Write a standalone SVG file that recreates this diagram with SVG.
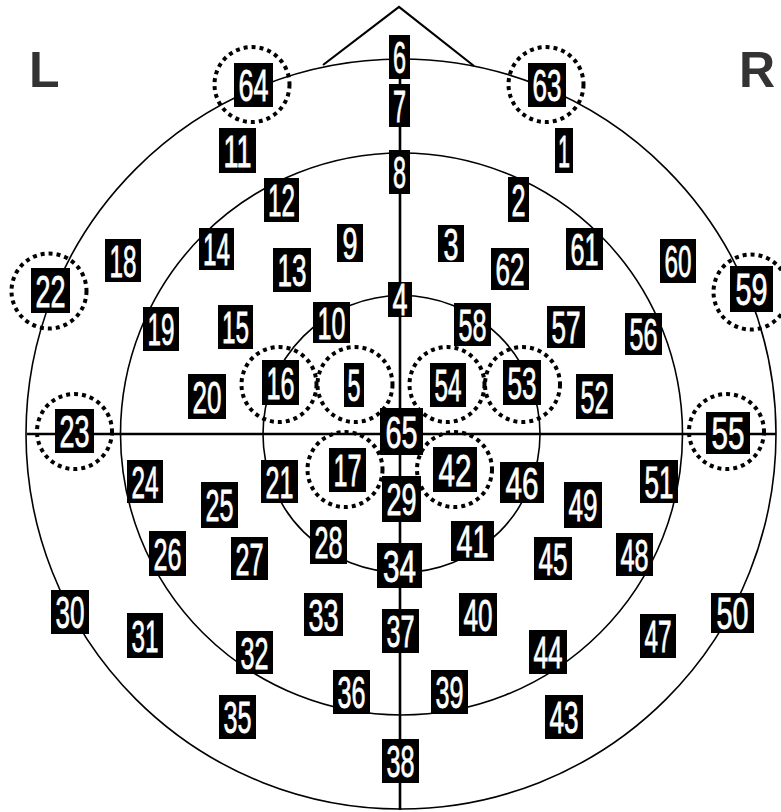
<svg xmlns="http://www.w3.org/2000/svg" width="781" height="812" viewBox="0 0 781 812">
<style>
.bg{fill:#fff}
.ring{fill:none;stroke:#000;stroke-width:1.6}
.axis{fill:none;stroke:#000;stroke-width:2.6}
.nose{fill:none;stroke:#000;stroke-width:2.2}
.dot{fill:none;stroke:#000;stroke-width:4;stroke-dasharray:4 4}
.box{fill:#000}
.lbl{fill:#fff;stroke:#fff;stroke-width:0.8;font-family:"Liberation Sans","DejaVu Sans",sans-serif;font-size:44px;text-anchor:middle}
.side{fill:#333;font-family:"Liberation Sans",Arial,sans-serif;font-weight:bold;font-size:50px}
</style>
<rect class="bg" x="0" y="0" width="781" height="812"/>
<g id="connectors">
<circle class="ring" cx="401" cy="434" r="375"/>
<circle class="ring" cx="401.5" cy="434" r="281"/>
<circle class="ring" cx="401.5" cy="434" r="138.5"/>
<polyline class="nose" points="323,65 399,7 474,66"/>
<line class="axis" x1="27" y1="434" x2="776" y2="434"/>
<line class="axis" x1="400" y1="36" x2="400" y2="810"/>
</g>
<g id="markers">
<circle class="dot" cx="252" cy="84.5" r="37.5"/>
<circle class="dot" cx="546" cy="84.5" r="37.5"/>
<circle class="dot" cx="49" cy="291" r="37.5"/>
<circle class="dot" cx="751" cy="292" r="37.5"/>
<circle class="dot" cx="74.5" cy="431.5" r="37.5"/>
<circle class="dot" cx="726.5" cy="431.5" r="37.5"/>
<circle class="dot" cx="279" cy="384.5" r="37.5"/>
<circle class="dot" cx="355" cy="384.5" r="37.5"/>
<circle class="dot" cx="447" cy="384.5" r="37.5"/>
<circle class="dot" cx="522.5" cy="384.5" r="37.5"/>
<circle class="dot" cx="345" cy="469.5" r="37.5"/>
<circle class="dot" cx="454.5" cy="469.5" r="37.5"/>
</g>
<text class="side" x="29" y="87">L</text>
<text class="side" x="739" y="87">R</text>
<g id="n6"><rect class="box" x="389" y="35" width="21" height="44"/><text class="lbl" x="399.5" y="73" textLength="13" lengthAdjust="spacingAndGlyphs">6</text></g>
<g id="n7"><rect class="box" x="389" y="84" width="21" height="43"/><text class="lbl" x="399.5" y="121.5" textLength="13" lengthAdjust="spacingAndGlyphs">7</text></g>
<g id="n8"><rect class="box" x="389" y="150" width="21" height="44"/><text class="lbl" x="399.5" y="188" textLength="13" lengthAdjust="spacingAndGlyphs">8</text></g>
<g id="n64"><rect class="box" x="234" y="63" width="39" height="44"/><text class="lbl" x="253.5" y="101" textLength="30" lengthAdjust="spacingAndGlyphs">64</text></g>
<g id="n63"><rect class="box" x="528" y="63" width="38" height="44"/><text class="lbl" x="547" y="101" textLength="29" lengthAdjust="spacingAndGlyphs">63</text></g>
<g id="n11"><rect class="box" x="219" y="128" width="37" height="45"/><text class="lbl" x="237.5" y="166.5" textLength="28" lengthAdjust="spacingAndGlyphs">11</text></g>
<g id="n1"><rect class="box" x="555" y="128" width="18" height="45"/><text class="lbl" x="564" y="166.5" textLength="12" lengthAdjust="spacingAndGlyphs">1</text></g>
<g id="n12"><rect class="box" x="264" y="178" width="35" height="44"/><text class="lbl" x="281.5" y="216" textLength="27" lengthAdjust="spacingAndGlyphs">12</text></g>
<g id="n2"><rect class="box" x="508" y="177" width="21" height="45"/><text class="lbl" x="518.5" y="215.5" textLength="14" lengthAdjust="spacingAndGlyphs">2</text></g>
<g id="n14"><rect class="box" x="199" y="228" width="35" height="42"/><text class="lbl" x="216.5" y="265" textLength="27" lengthAdjust="spacingAndGlyphs">14</text></g>
<g id="n9"><rect class="box" x="337" y="224" width="26" height="38"/><text class="lbl" x="350" y="259" textLength="15" lengthAdjust="spacingAndGlyphs">9</text></g>
<g id="n3"><rect class="box" x="438" y="225" width="26" height="37"/><text class="lbl" x="451" y="259.5" textLength="15" lengthAdjust="spacingAndGlyphs">3</text></g>
<g id="n61"><rect class="box" x="566" y="228" width="37" height="42"/><text class="lbl" x="584.5" y="265" textLength="28" lengthAdjust="spacingAndGlyphs">61</text></g>
<g id="n18"><rect class="box" x="105" y="239" width="36" height="43"/><text class="lbl" x="123" y="276.5" textLength="27" lengthAdjust="spacingAndGlyphs">18</text></g>
<g id="n60"><rect class="box" x="660" y="239" width="36" height="44"/><text class="lbl" x="678" y="277" textLength="27" lengthAdjust="spacingAndGlyphs">60</text></g>
<g id="n13"><rect class="box" x="273" y="248" width="38" height="44"/><text class="lbl" x="292" y="286" textLength="29" lengthAdjust="spacingAndGlyphs">13</text></g>
<g id="n62"><rect class="box" x="491" y="248" width="38" height="42"/><text class="lbl" x="510" y="285" textLength="29" lengthAdjust="spacingAndGlyphs">62</text></g>
<g id="n22"><rect class="box" x="31" y="268" width="39" height="45"/><text class="lbl" x="50.5" y="306.5" textLength="30" lengthAdjust="spacingAndGlyphs">22</text></g>
<g id="n59"><rect class="box" x="730" y="266" width="43" height="46"/><text class="lbl" x="751.5" y="305" textLength="32" lengthAdjust="spacingAndGlyphs">59</text></g>
<g id="n4"><rect class="box" x="388" y="282" width="24" height="35"/><text class="lbl" x="400" y="315" textLength="15" lengthAdjust="spacingAndGlyphs">4</text></g>
<g id="n10"><rect class="box" x="313" y="302" width="37" height="41"/><text class="lbl" x="331.5" y="338.5" textLength="28" lengthAdjust="spacingAndGlyphs">10</text></g>
<g id="n58"><rect class="box" x="454" y="303" width="37" height="43"/><text class="lbl" x="472.5" y="340.5" textLength="28" lengthAdjust="spacingAndGlyphs">58</text></g>
<g id="n19"><rect class="box" x="143" y="307" width="36" height="44"/><text class="lbl" x="161" y="345" textLength="27" lengthAdjust="spacingAndGlyphs">19</text></g>
<g id="n15"><rect class="box" x="218" y="305" width="35" height="44"/><text class="lbl" x="235.5" y="343" textLength="27" lengthAdjust="spacingAndGlyphs">15</text></g>
<g id="n57"><rect class="box" x="547" y="306" width="38" height="42"/><text class="lbl" x="566" y="343" textLength="29" lengthAdjust="spacingAndGlyphs">57</text></g>
<g id="n56"><rect class="box" x="625" y="313" width="37" height="42"/><text class="lbl" x="643.5" y="350" textLength="28" lengthAdjust="spacingAndGlyphs">56</text></g>
<g id="n16"><rect class="box" x="262" y="360" width="37" height="45"/><text class="lbl" x="280.5" y="398.5" textLength="28" lengthAdjust="spacingAndGlyphs">16</text></g>
<g id="n5"><rect class="box" x="344" y="363" width="20" height="44"/><text class="lbl" x="354" y="401" textLength="13" lengthAdjust="spacingAndGlyphs">5</text></g>
<g id="n54"><rect class="box" x="430" y="363" width="36" height="44"/><text class="lbl" x="448" y="401" textLength="27" lengthAdjust="spacingAndGlyphs">54</text></g>
<g id="n53"><rect class="box" x="503" y="360" width="38" height="45"/><text class="lbl" x="522" y="398.5" textLength="29" lengthAdjust="spacingAndGlyphs">53</text></g>
<g id="n20"><rect class="box" x="188" y="374" width="38" height="45"/><text class="lbl" x="207" y="412.5" textLength="29" lengthAdjust="spacingAndGlyphs">20</text></g>
<g id="n52"><rect class="box" x="576" y="374" width="37" height="45"/><text class="lbl" x="594.5" y="412.5" textLength="28" lengthAdjust="spacingAndGlyphs">52</text></g>
<g id="n65"><rect class="box" x="380" y="408" width="43" height="47"/><text class="lbl" x="401.5" y="447.5" textLength="32" lengthAdjust="spacingAndGlyphs">65</text></g>
<g id="n23"><rect class="box" x="55" y="409" width="39" height="44"/><text class="lbl" x="74.5" y="447" textLength="30" lengthAdjust="spacingAndGlyphs">23</text></g>
<g id="n55"><rect class="box" x="706" y="412" width="44" height="42"/><text class="lbl" x="728" y="449" textLength="33" lengthAdjust="spacingAndGlyphs">55</text></g>
<g id="n17"><rect class="box" x="329" y="448" width="37" height="44"/><text class="lbl" x="347.5" y="486" textLength="28" lengthAdjust="spacingAndGlyphs">17</text></g>
<g id="n42"><rect class="box" x="433" y="447" width="44" height="45"/><text class="lbl" x="455" y="485.5" textLength="33" lengthAdjust="spacingAndGlyphs">42</text></g>
<g id="n24"><rect class="box" x="127" y="460" width="36" height="43"/><text class="lbl" x="145" y="497.5" textLength="27" lengthAdjust="spacingAndGlyphs">24</text></g>
<g id="n21"><rect class="box" x="261" y="460" width="37" height="43"/><text class="lbl" x="279.5" y="497.5" textLength="28" lengthAdjust="spacingAndGlyphs">21</text></g>
<g id="n46"><rect class="box" x="500" y="462" width="44" height="41"/><text class="lbl" x="522" y="498.5" textLength="33" lengthAdjust="spacingAndGlyphs">46</text></g>
<g id="n51"><rect class="box" x="640" y="460" width="38" height="43"/><text class="lbl" x="659" y="497.5" textLength="29" lengthAdjust="spacingAndGlyphs">51</text></g>
<g id="n29"><rect class="box" x="382" y="476" width="39" height="46"/><text class="lbl" x="401.5" y="515" textLength="30" lengthAdjust="spacingAndGlyphs">29</text></g>
<g id="n25"><rect class="box" x="201" y="482" width="37" height="46"/><text class="lbl" x="219.5" y="521" textLength="28" lengthAdjust="spacingAndGlyphs">25</text></g>
<g id="n49"><rect class="box" x="564" y="482" width="38" height="46"/><text class="lbl" x="583" y="521" textLength="29" lengthAdjust="spacingAndGlyphs">49</text></g>
<g id="n28"><rect class="box" x="310" y="520" width="37" height="44"/><text class="lbl" x="328.5" y="558" textLength="28" lengthAdjust="spacingAndGlyphs">28</text></g>
<g id="n41"><rect class="box" x="451" y="521" width="43" height="40"/><text class="lbl" x="472.5" y="557" textLength="32" lengthAdjust="spacingAndGlyphs">41</text></g>
<g id="n26"><rect class="box" x="149" y="531" width="37" height="45"/><text class="lbl" x="167.5" y="569.5" textLength="28" lengthAdjust="spacingAndGlyphs">26</text></g>
<g id="n27"><rect class="box" x="231" y="537" width="37" height="43"/><text class="lbl" x="249.5" y="574.5" textLength="28" lengthAdjust="spacingAndGlyphs">27</text></g>
<g id="n45"><rect class="box" x="534" y="537" width="38" height="43"/><text class="lbl" x="553" y="574.5" textLength="29" lengthAdjust="spacingAndGlyphs">45</text></g>
<g id="n48"><rect class="box" x="616" y="533" width="37" height="43"/><text class="lbl" x="634.5" y="570.5" textLength="28" lengthAdjust="spacingAndGlyphs">48</text></g>
<g id="n34"><rect class="box" x="377" y="543" width="45" height="45"/><text class="lbl" x="399.5" y="581.5" textLength="33" lengthAdjust="spacingAndGlyphs">34</text></g>
<g id="n30"><rect class="box" x="51" y="590" width="38" height="44"/><text class="lbl" x="70" y="628" textLength="29" lengthAdjust="spacingAndGlyphs">30</text></g>
<g id="n40"><rect class="box" x="459" y="593" width="38" height="43"/><text class="lbl" x="478" y="630.5" textLength="29" lengthAdjust="spacingAndGlyphs">40</text></g>
<g id="n33"><rect class="box" x="304" y="593" width="39" height="43"/><text class="lbl" x="323.5" y="630.5" textLength="30" lengthAdjust="spacingAndGlyphs">33</text></g>
<g id="n50"><rect class="box" x="711" y="593" width="43" height="40"/><text class="lbl" x="732.5" y="629" textLength="32" lengthAdjust="spacingAndGlyphs">50</text></g>
<g id="n37"><rect class="box" x="382" y="609" width="37" height="44"/><text class="lbl" x="400.5" y="647" textLength="28" lengthAdjust="spacingAndGlyphs">37</text></g>
<g id="n31"><rect class="box" x="127" y="613" width="36" height="45"/><text class="lbl" x="145" y="651.5" textLength="27" lengthAdjust="spacingAndGlyphs">31</text></g>
<g id="n47"><rect class="box" x="640" y="614" width="36" height="44"/><text class="lbl" x="658" y="652" textLength="27" lengthAdjust="spacingAndGlyphs">47</text></g>
<g id="n32"><rect class="box" x="236" y="631" width="37" height="43"/><text class="lbl" x="254.5" y="668.5" textLength="28" lengthAdjust="spacingAndGlyphs">32</text></g>
<g id="n44"><rect class="box" x="529" y="630" width="38" height="44"/><text class="lbl" x="548" y="668" textLength="29" lengthAdjust="spacingAndGlyphs">44</text></g>
<g id="n36"><rect class="box" x="333" y="670" width="37" height="44"/><text class="lbl" x="351.5" y="708" textLength="28" lengthAdjust="spacingAndGlyphs">36</text></g>
<g id="n39"><rect class="box" x="431" y="670" width="37" height="44"/><text class="lbl" x="449.5" y="708" textLength="28" lengthAdjust="spacingAndGlyphs">39</text></g>
<g id="n35"><rect class="box" x="219" y="695" width="37" height="44"/><text class="lbl" x="237.5" y="733" textLength="28" lengthAdjust="spacingAndGlyphs">35</text></g>
<g id="n43"><rect class="box" x="545" y="695" width="38" height="44"/><text class="lbl" x="564" y="733" textLength="29" lengthAdjust="spacingAndGlyphs">43</text></g>
<g id="n38"><rect class="box" x="382" y="739" width="37" height="44"/><text class="lbl" x="400.5" y="777" textLength="28" lengthAdjust="spacingAndGlyphs">38</text></g>
</svg>
